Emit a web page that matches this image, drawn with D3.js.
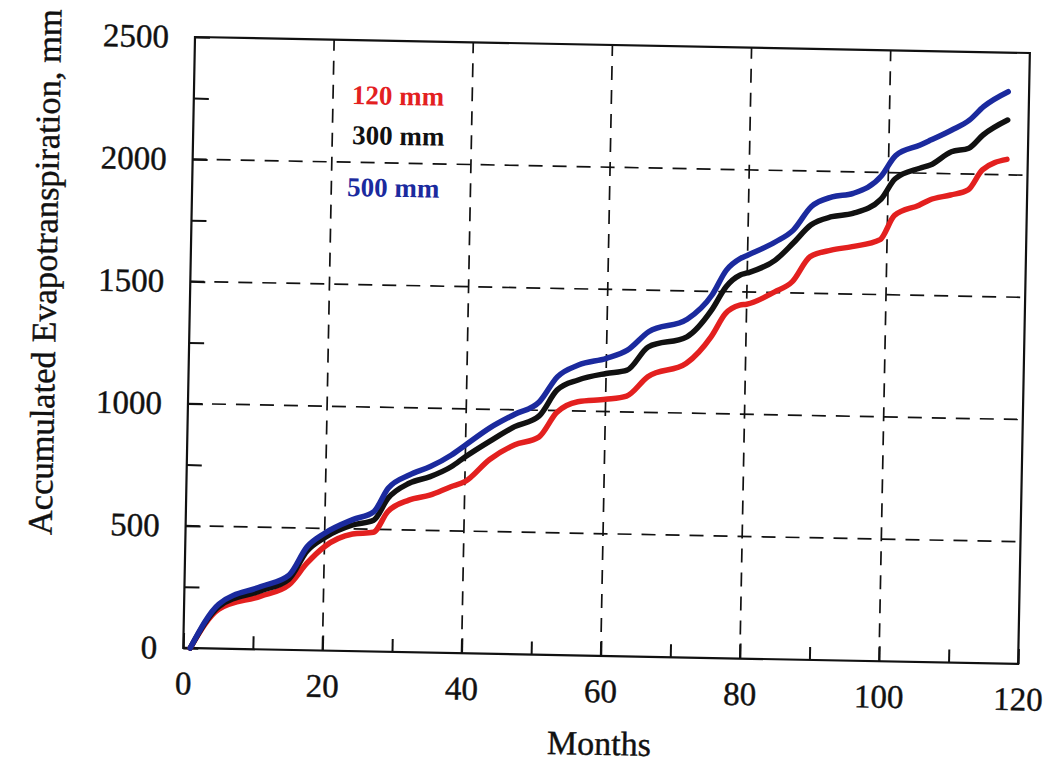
<!DOCTYPE html>
<html>
<head>
<meta charset="utf-8">
<script src="https://cdn.jsdelivr.net/npm/d3@7"></script>
<style>
  body { margin: 0; background: #fff; }
  svg { display: block; }
</style>
</head>
<body>
<div id="chart-area"></div>
<script>
// Accumulated evapotranspiration for three soil storage capacities

var months = [1, 5, 11, 15, 17.5, 20, 24, 27, 29, 32, 35, 38, 40, 43.5, 47, 50.5, 53, 56, 60, 63,
              66, 71.5, 75, 77, 79, 80, 84, 86.5, 89, 92, 95, 99, 101, 104.5, 106, 109, 111.5, 113.5, 117];

var et120 = [0, 161, 218, 266, 355, 425, 479, 488, 573, 622, 644, 680, 702, 795, 856, 890, 992, 1038, 1050, 1065,
             1146, 1204, 1315, 1411, 1446, 1450, 1503, 1546, 1650, 1678, 1694, 1725, 1825, 1869, 1891, 1913, 1935, 2018, 2063];
var et300 = [0, 172, 240, 290, 405, 462, 516, 537, 628, 691, 720, 762, 804, 870, 931, 977, 1084, 1127, 1156, 1171,
             1268, 1312, 1424, 1520, 1569, 1578, 1633, 1703, 1779, 1815, 1830, 1890, 1975, 2020, 2034, 2090, 2106, 2161, 2224];
var et500 = [0, 182, 257, 306, 423, 480, 538, 572, 669, 725, 761, 810, 852, 925, 982, 1035, 1138, 1188, 1218, 1253,
             1330, 1384, 1485, 1588, 1637, 1651, 1708, 1757, 1854, 1896, 1912, 1985, 2070, 2115, 2136, 2179, 2221, 2277, 2340];

var seriesNames = ["120 mm", "300 mm", "500 mm"];
var seriesColors = ["#e3201f", "#111111", "#1b2a9e"];

var xTicks = [0, 20, 40, 60, 80, 100, 120];
var xMinor = [10, 30, 50, 70, 90, 110];
var yTicks = [0, 500, 1000, 1500, 2000, 2500];
var yMinor = [250, 750, 1250, 1750, 2250];
var xGrid = [20, 40, 60, 80, 100];
var yGrid = [500, 1000, 1500, 2000];

var margin = { left: 195, top: 37 };
var width = 835, height = 611;
var tilt = 1.1;   // the scanned figure sits slightly skewed
var fontFam = "'Liberation Serif', 'Times New Roman', serif";

var svg = d3.select("#chart-area")
    .append("svg")
        .attr("width", 1046)
        .attr("height", 764);

svg.append("rect")
    .attr("width", 1046)
    .attr("height", 764)
    .attr("fill", "#fff");

var g = svg.append("g")
    .attr("transform", "translate(" + margin.left + "," + margin.top + ") rotate(" + tilt + ")");

// Scales
var x = d3.scaleLinear()
    .domain([0, 120])
    .range([0, width]);
var y = d3.scaleLinear()
    .domain([0, 2500])
    .range([height, 0]);

// Grid
g.selectAll(".vgrid").data(xGrid).enter()
    .append("line")
        .attr("class", "vgrid")
        .attr("x1", function(d){ return x(d); })
        .attr("x2", function(d){ return x(d); })
        .attr("y1", y(0))
        .attr("y2", y(2500))
        .attr("stroke", "#111")
        .attr("stroke-width", 1.7)
        .attr("stroke-dasharray", "14,10");

g.selectAll(".hgrid").data(yGrid).enter()
    .append("line")
        .attr("class", "hgrid")
        .attr("x1", x(0))
        .attr("x2", x(120))
        .attr("y1", function(d){ return y(d); })
        .attr("y2", function(d){ return y(d); })
        .attr("stroke", "#111")
        .attr("stroke-width", 1.7)
        .attr("stroke-dasharray", "14,10");

// X Axis
var xAxisCall = d3.axisBottom(x)
    .tickValues(xTicks)
    .tickSize(-15)
    .tickPadding(23)
    .tickFormat(d3.format("d"));
g.append("g")
    .attr("class", "x axis")
    .attr("transform", "translate(0," + height + ")")
    .call(xAxisCall);

var xMinorCall = d3.axisBottom(x)
    .tickValues(xMinor)
    .tickSize(-13)
    .tickFormat("");
g.append("g")
    .attr("class", "x minor")
    .attr("transform", "translate(0," + height + ")")
    .call(xMinorCall);

// Y Axis
var yAxisCall = d3.axisLeft(y)
    .tickValues(yTicks)
    .tickSize(-15)
    .tickPadding(26)
    .tickFormat(d3.format("d"));
g.append("g")
    .attr("class", "y axis")
    .call(yAxisCall);

var yMinorCall = d3.axisLeft(y)
    .tickValues(yMinor)
    .tickSize(-15)
    .tickFormat("");
g.append("g")
    .attr("class", "y minor")
    .call(yMinorCall);

g.selectAll(".axis path, .minor path").remove();
g.selectAll(".axis line, .minor line")
    .attr("stroke", "#111")
    .attr("stroke-width", 2);
g.selectAll(".axis text")
    .attr("font-family", fontFam)
    .attr("font-size", 33)
    .attr("fill", "#111")
    .attr("stroke", "#111")
    .attr("stroke-width", 0.4);

// Frame
g.append("rect")
    .attr("width", width)
    .attr("height", height)
    .attr("fill", "none")
    .attr("stroke", "#111")
    .attr("stroke-width", 2.2);

// Labels
g.append("text")
    .attr("x", width / 2)
    .attr("y", height + 99)
    .attr("font-family", fontFam)
    .attr("font-size", 34)
    .attr("text-anchor", "middle")
    .attr("fill", "#111")
    .attr("stroke", "#111")
    .attr("stroke-width", 0.4)
    .text("Months");

g.append("text")
    .attr("transform", "translate(-146,238) rotate(-90)")
    .attr("dy", "0.35em")
    .attr("font-family", fontFam)
    .attr("font-size", 34.5)
    .attr("text-anchor", "middle")
    .attr("fill", "#111")
    .attr("stroke", "#111")
    .attr("stroke-width", 0.4)
    .text("Accumulated Evapotranspiration, mm");

// Lines
var line = d3.line()
    .x(function(d){ return x(d[0]); })
    .y(function(d){ return y(d[1]); })
    .curve(d3.curveMonotoneX);

[et120, et300, et500].forEach(function(vals, i) {
    var pts = months.map(function(m, j){ return [m, vals[j]]; });
    g.append("path")
        .datum(pts)
        .attr("fill", "none")
        .attr("stroke", seriesColors[i])
        .attr("stroke-width", 5.5)
        .attr("stroke-linejoin", "round")
        .attr("stroke-linecap", "round")
        .attr("d", line);
});

// Legend
var legendPos = [[158, 64], [159, 104], [155, 156]];
seriesNames.forEach(function(name, i) {
    g.append("text")
        .attr("x", legendPos[i][0])
        .attr("y", legendPos[i][1])
        .attr("font-family", fontFam)
        .attr("font-size", 27)
        .attr("font-weight", "bold")
        .attr("fill", seriesColors[i])
        .text(name);
});
</script>
</body>
</html>
